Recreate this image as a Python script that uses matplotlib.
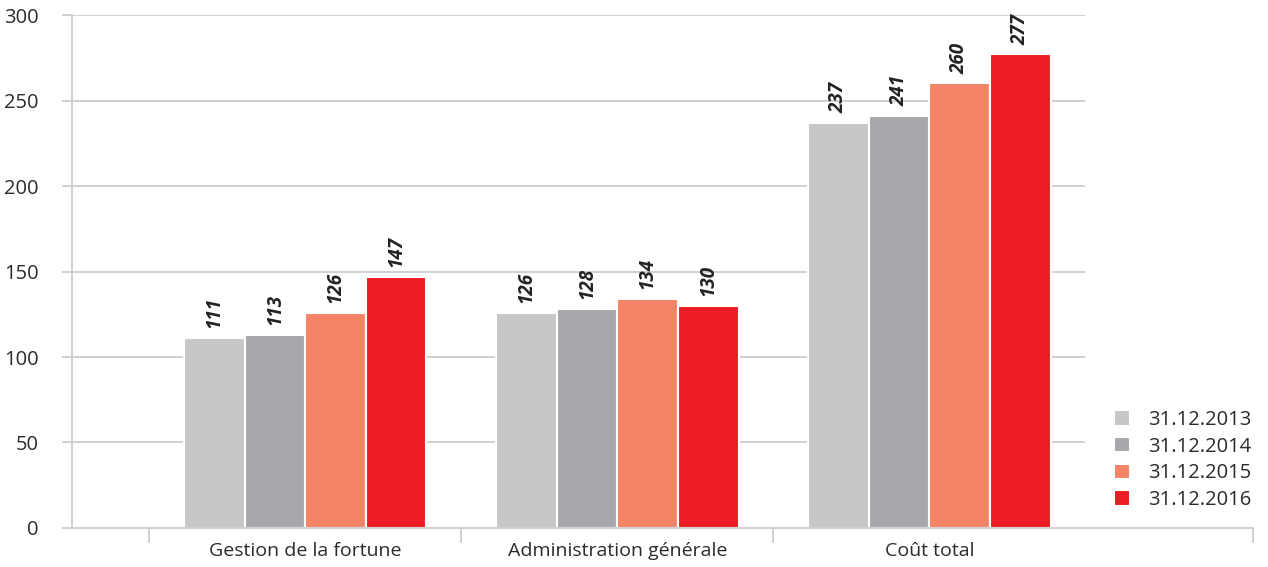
import matplotlib.pyplot as plt
import numpy as np

# Data
categories = ['Gestion de la fortune', 'Administration générale', 'Coût total']
series_labels = ['31.12.2013', '31.12.2014', '31.12.2015', '31.12.2016']
values_2013 = [111, 126, 237]
values_2014 = [113, 128, 241]
values_2015 = [126, 134, 260]
values_2016 = [147, 130, 277]
colors = ['#C6C7C9', '#A7A8AB', '#F58467', '#ED1C24']

series = [values_2013, values_2014, values_2015, values_2016]

plt.rcParams['font.family'] = ['Open Sans', 'DejaVu Sans']
text_color = '#2b2b2b'
grid_color = '#c8c8cc'

fig = plt.figure(figsize=(12.68, 5.67), dpi=100)
ax = fig.add_axes([0.0568, 0.0688, 0.9314, 0.9047])

x = np.arange(len(categories))
width = 0.194

# horizontal gridlines stop at the right edge of the last group
for yv in range(50, 301, 50):
    ax.hlines(yv, -0.748, 2.5, color=grid_color, linewidth=1.2, zorder=0)

for i, vals in enumerate(series):
    pos = x + (i - 1.5) * width
    bars = ax.bar(pos, vals, width, color=colors[i], edgecolor='white',
                  linewidth=1.5, label=series_labels[i], zorder=2)
    for b, v in zip(bars, vals):
        ax.annotate(str(v), (b.get_x() + b.get_width() / 2, v),
                    xytext=(0, 7), textcoords='offset points',
                    rotation=90, ha='center', va='bottom',
                    fontsize=13.5, fontweight='bold', fontstyle='italic',
                    color='#222222', zorder=3)

ax.set_xlim(-0.748, 3.037)
ax.set_ylim(0, 300)

for side in ['top', 'right']:
    ax.spines[side].set_visible(False)
for side in ['left', 'bottom']:
    ax.spines[side].set_color(grid_color)
    ax.spines[side].set_linewidth(1.2)

ax.set_yticks(range(0, 301, 50))
ax.tick_params(axis='y', direction='out', length=7, width=1.2,
               color=grid_color, labelsize=14.5, labelcolor=text_color, pad=17)

# group separators as major ticks, category names as minor ticks
ax.set_xticks([-0.5, 0.5, 1.5, 3.037])
ax.set_xticklabels([])
ax.set_xticks(x, minor=True)
ax.set_xticklabels(categories, minor=True)
ax.tick_params(axis='x', which='major', direction='out', length=11,
               width=1.2, color=grid_color)
ax.tick_params(axis='x', which='minor', length=0, labelsize=14,
               labelcolor=text_color, pad=10)

leg = ax.legend(loc='lower left', bbox_to_anchor=(0.882, 0.035), frameon=False,
                fontsize=14.5, handlelength=0.8, handleheight=0.8,
                handletextpad=0.9, labelspacing=0.33, borderaxespad=0,
                borderpad=0)
for t in leg.get_texts():
    t.set_color(text_color)

fig.savefig('out.png', dpi=100)
